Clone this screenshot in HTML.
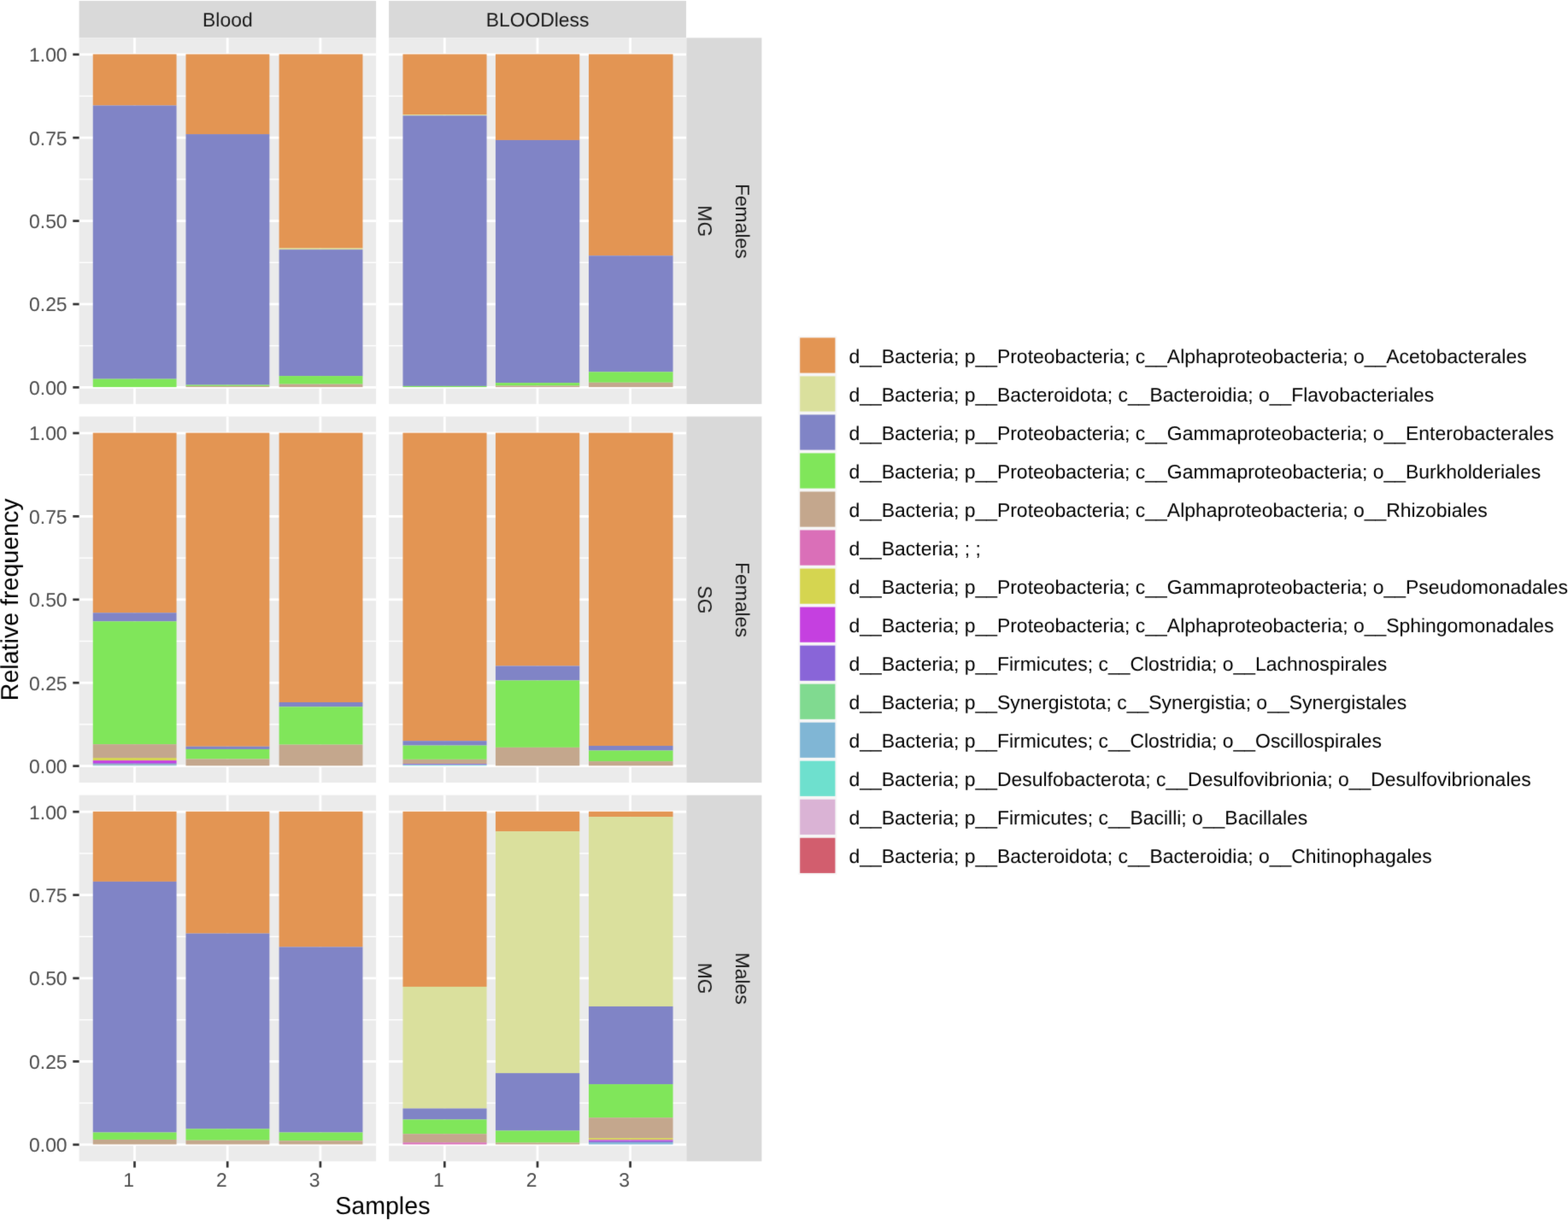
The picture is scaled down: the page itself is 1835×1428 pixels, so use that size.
<!DOCTYPE html>
<html lang="en"><head><meta charset="utf-8"><title>Relative frequency by sample</title>
<style>
html,body{margin:0;padding:0;background:#fff;}
body{width:1835px;height:1428px;overflow:hidden;}
svg{display:block;}
text{font-family:"Liberation Sans",Arial,Helvetica,sans-serif;text-rendering:geometricPrecision;}
.ax{font-size:22.9px;fill:#4d4d4d;}
.st{font-size:22.9px;fill:#1a1a1a;}
.lg{font-size:22.95px;fill:#000;}
.ti{font-size:28.6px;fill:#000;}
</style></head><body>
<svg width="1835" height="1428" viewBox="0 0 1835 1428">
<defs><filter id="soft" x="0" y="0" width="1835" height="1428" filterUnits="userSpaceOnUse" color-interpolation-filters="sRGB"><feConvolveMatrix order="3" kernelMatrix="0.0100 0.0800 0.0100 0.0800 0.6400 0.0800 0.0100 0.0800 0.0100" divisor="1" edgeMode="duplicate" preserveAlpha="true"/></filter></defs>
<g filter="url(#soft)">
<rect x="0" y="0" width="1835" height="1428" fill="#ffffff"/>
<rect x="92.6" y="1" width="347.5" height="43.3" fill="#d9d9d9"/>
<text class="st" transform="translate(266.35 31)" text-anchor="middle">Blood</text>
<rect x="455.1" y="1" width="347.9" height="43.3" fill="#d9d9d9"/>
<text class="st" transform="translate(629.05 31)" text-anchor="middle">BLOODless</text>
<rect x="803.3" y="44.3" width="88.1" height="428.6" fill="#d9d9d9"/>
<text class="st" transform="translate(817 258.8) rotate(90)" text-anchor="middle">MG</text>
<text class="st" transform="translate(861 258.8) rotate(90)" text-anchor="middle">Females</text>
<rect x="803.3" y="487.5" width="88.1" height="428.6" fill="#d9d9d9"/>
<text class="st" transform="translate(817 702) rotate(90)" text-anchor="middle">SG</text>
<text class="st" transform="translate(861 702) rotate(90)" text-anchor="middle">Females</text>
<rect x="803.3" y="930.7" width="88.1" height="428.6" fill="#d9d9d9"/>
<text class="st" transform="translate(817 1145.2) rotate(90)" text-anchor="middle">MG</text>
<text class="st" transform="translate(861 1145.2) rotate(90)" text-anchor="middle">Males</text>
<g>
<rect x="92.6" y="44.3" width="347.5" height="428.6" fill="#ebebeb"/>
<rect x="92.6" y="404.01" width="347.5" height="1.4" fill="#fff"/>
<rect x="92.6" y="306.6" width="347.5" height="1.4" fill="#fff"/>
<rect x="92.6" y="209.2" width="347.5" height="1.4" fill="#fff"/>
<rect x="92.6" y="111.79" width="347.5" height="1.4" fill="#fff"/>
<rect x="92.6" y="452.02" width="347.5" height="2.8" fill="#fff"/>
<rect x="92.6" y="354.61" width="347.5" height="2.8" fill="#fff"/>
<rect x="92.6" y="257.2" width="347.5" height="2.8" fill="#fff"/>
<rect x="92.6" y="159.79" width="347.5" height="2.8" fill="#fff"/>
<rect x="92.6" y="62.38" width="347.5" height="2.8" fill="#fff"/>
<rect x="156.1" y="44.3" width="2.8" height="428.6" fill="#fff"/>
<rect x="264.8" y="44.3" width="2.8" height="428.6" fill="#fff"/>
<rect x="373.5" y="44.3" width="2.8" height="428.6" fill="#fff"/>
<rect x="108.75" y="63.43" width="97.8" height="60" fill="#E39553"/>
<rect x="108.75" y="123.44" width="97.8" height="320.13" fill="#8084C6"/>
<rect x="108.75" y="443.56" width="97.8" height="9.51" fill="#80E65A"/>
<rect x="217.5" y="63.43" width="97.85" height="93.63" fill="#E39553"/>
<rect x="217.5" y="157.06" width="97.85" height="293.47" fill="#8084C6"/>
<rect x="217.5" y="450.54" width="97.85" height="1.36" fill="#80E65A"/>
<rect x="217.5" y="451.9" width="97.85" height="1.17" fill="#C4A78D"/>
<rect x="326.6" y="63.43" width="97.85" height="227.16" fill="#E39553"/>
<rect x="326.6" y="290.59" width="97.85" height="1.56" fill="#DAE09D"/>
<rect x="326.6" y="292.15" width="97.85" height="147.94" fill="#8084C6"/>
<rect x="326.6" y="440.09" width="97.85" height="9.55" fill="#80E65A"/>
<rect x="326.6" y="449.64" width="97.85" height="3.43" fill="#C4A78D"/>
</g>
<g>
<rect x="455.1" y="44.3" width="347.9" height="428.6" fill="#ebebeb"/>
<rect x="455.1" y="404.01" width="347.9" height="1.4" fill="#fff"/>
<rect x="455.1" y="306.6" width="347.9" height="1.4" fill="#fff"/>
<rect x="455.1" y="209.2" width="347.9" height="1.4" fill="#fff"/>
<rect x="455.1" y="111.79" width="347.9" height="1.4" fill="#fff"/>
<rect x="455.1" y="452.02" width="347.9" height="2.8" fill="#fff"/>
<rect x="455.1" y="354.61" width="347.9" height="2.8" fill="#fff"/>
<rect x="455.1" y="257.2" width="347.9" height="2.8" fill="#fff"/>
<rect x="455.1" y="159.79" width="347.9" height="2.8" fill="#fff"/>
<rect x="455.1" y="62.38" width="347.9" height="2.8" fill="#fff"/>
<rect x="518.9" y="44.3" width="2.8" height="428.6" fill="#fff"/>
<rect x="627.6" y="44.3" width="2.8" height="428.6" fill="#fff"/>
<rect x="736.2" y="44.3" width="2.8" height="428.6" fill="#fff"/>
<rect x="471.45" y="63.43" width="98.1" height="70.72" fill="#E39553"/>
<rect x="471.45" y="134.15" width="98.1" height="1.17" fill="#DAE09D"/>
<rect x="471.45" y="135.32" width="98.1" height="316.58" fill="#8084C6"/>
<rect x="471.45" y="451.9" width="98.1" height="1.17" fill="#80E65A"/>
<rect x="579.95" y="63.43" width="98.3" height="100.53" fill="#E39553"/>
<rect x="579.95" y="163.96" width="98.3" height="284.16" fill="#8084C6"/>
<rect x="579.95" y="448.12" width="98.3" height="3.39" fill="#80E65A"/>
<rect x="579.95" y="451.51" width="98.3" height="1.56" fill="#C4A78D"/>
<rect x="689" y="63.43" width="98.55" height="235.81" fill="#E39553"/>
<rect x="689" y="299.24" width="98.55" height="136.1" fill="#8084C6"/>
<rect x="689" y="435.34" width="98.55" height="12.43" fill="#80E65A"/>
<rect x="689" y="447.77" width="98.55" height="5.3" fill="#C4A78D"/>
</g>
<rect x="85.3" y="452.07" width="7.3" height="2.7" fill="#333"/>
<text class="ax" transform="translate(78.6 462)" text-anchor="end">0.00</text>
<rect x="85.3" y="354.66" width="7.3" height="2.7" fill="#333"/>
<text class="ax" transform="translate(78.6 364)" text-anchor="end">0.25</text>
<rect x="85.3" y="257.25" width="7.3" height="2.7" fill="#333"/>
<text class="ax" transform="translate(78.6 267)" text-anchor="end">0.50</text>
<rect x="85.3" y="159.84" width="7.3" height="2.7" fill="#333"/>
<text class="ax" transform="translate(78.6 170)" text-anchor="end">0.75</text>
<rect x="85.3" y="62.43" width="7.3" height="2.7" fill="#333"/>
<text class="ax" transform="translate(78.6 72)" text-anchor="end">1.00</text>
<g>
<rect x="92.6" y="487.5" width="347.5" height="428.6" fill="#ebebeb"/>
<rect x="92.6" y="847.21" width="347.5" height="1.4" fill="#fff"/>
<rect x="92.6" y="749.8" width="347.5" height="1.4" fill="#fff"/>
<rect x="92.6" y="652.4" width="347.5" height="1.4" fill="#fff"/>
<rect x="92.6" y="554.99" width="347.5" height="1.4" fill="#fff"/>
<rect x="92.6" y="895.22" width="347.5" height="2.8" fill="#fff"/>
<rect x="92.6" y="797.81" width="347.5" height="2.8" fill="#fff"/>
<rect x="92.6" y="700.4" width="347.5" height="2.8" fill="#fff"/>
<rect x="92.6" y="602.99" width="347.5" height="2.8" fill="#fff"/>
<rect x="92.6" y="505.58" width="347.5" height="2.8" fill="#fff"/>
<rect x="156.1" y="487.5" width="2.8" height="428.6" fill="#fff"/>
<rect x="264.8" y="487.5" width="2.8" height="428.6" fill="#fff"/>
<rect x="373.5" y="487.5" width="2.8" height="428.6" fill="#fff"/>
<rect x="108.75" y="506.63" width="97.8" height="210.64" fill="#E39553"/>
<rect x="108.75" y="717.27" width="97.8" height="10.09" fill="#8084C6"/>
<rect x="108.75" y="727.36" width="97.8" height="143.78" fill="#80E65A"/>
<rect x="108.75" y="871.14" width="97.8" height="15.94" fill="#C4A78D"/>
<rect x="108.75" y="887.07" width="97.8" height="3.08" fill="#D5D550"/>
<rect x="108.75" y="890.15" width="97.8" height="3.12" fill="#C540E0"/>
<rect x="108.75" y="893.27" width="97.8" height="1.44" fill="#8965D8"/>
<rect x="108.75" y="894.71" width="97.8" height="0.78" fill="#80DA90"/>
<rect x="108.75" y="895.49" width="97.8" height="0.78" fill="#80B6D5"/>
<rect x="217.5" y="506.63" width="97.85" height="367.12" fill="#E39553"/>
<rect x="217.5" y="873.75" width="97.85" height="3.2" fill="#8084C6"/>
<rect x="217.5" y="876.94" width="97.85" height="11.53" fill="#80E65A"/>
<rect x="217.5" y="888.48" width="97.85" height="7.79" fill="#C4A78D"/>
<rect x="326.6" y="506.63" width="97.85" height="315.37" fill="#E39553"/>
<rect x="326.6" y="822" width="97.85" height="5.3" fill="#8084C6"/>
<rect x="326.6" y="827.3" width="97.85" height="44.34" fill="#80E65A"/>
<rect x="326.6" y="871.64" width="97.85" height="24.63" fill="#C4A78D"/>
</g>
<g>
<rect x="455.1" y="487.5" width="347.9" height="428.6" fill="#ebebeb"/>
<rect x="455.1" y="847.21" width="347.9" height="1.4" fill="#fff"/>
<rect x="455.1" y="749.8" width="347.9" height="1.4" fill="#fff"/>
<rect x="455.1" y="652.4" width="347.9" height="1.4" fill="#fff"/>
<rect x="455.1" y="554.99" width="347.9" height="1.4" fill="#fff"/>
<rect x="455.1" y="895.22" width="347.9" height="2.8" fill="#fff"/>
<rect x="455.1" y="797.81" width="347.9" height="2.8" fill="#fff"/>
<rect x="455.1" y="700.4" width="347.9" height="2.8" fill="#fff"/>
<rect x="455.1" y="602.99" width="347.9" height="2.8" fill="#fff"/>
<rect x="455.1" y="505.58" width="347.9" height="2.8" fill="#fff"/>
<rect x="518.9" y="487.5" width="2.8" height="428.6" fill="#fff"/>
<rect x="627.6" y="487.5" width="2.8" height="428.6" fill="#fff"/>
<rect x="736.2" y="487.5" width="2.8" height="428.6" fill="#fff"/>
<rect x="471.45" y="506.63" width="98.1" height="360.53" fill="#E39553"/>
<rect x="471.45" y="867.16" width="98.1" height="5.42" fill="#8084C6"/>
<rect x="471.45" y="872.58" width="98.1" height="16.29" fill="#80E65A"/>
<rect x="471.45" y="888.87" width="98.1" height="5.3" fill="#C4A78D"/>
<rect x="471.45" y="894.16" width="98.1" height="0.94" fill="#8965D8"/>
<rect x="471.45" y="895.1" width="98.1" height="0.7" fill="#80B6D5"/>
<rect x="471.45" y="895.8" width="98.1" height="0.47" fill="#6EE0CE"/>
<rect x="579.95" y="506.63" width="98.3" height="272.82" fill="#E39553"/>
<rect x="579.95" y="779.46" width="98.3" height="16.99" fill="#8084C6"/>
<rect x="579.95" y="796.44" width="98.3" height="78.43" fill="#80E65A"/>
<rect x="579.95" y="874.88" width="98.3" height="21.39" fill="#C4A78D"/>
<rect x="689" y="506.63" width="98.55" height="366.34" fill="#E39553"/>
<rect x="689" y="872.97" width="98.55" height="5.53" fill="#8084C6"/>
<rect x="689" y="878.5" width="98.55" height="12.62" fill="#80E65A"/>
<rect x="689" y="891.12" width="98.55" height="5.14" fill="#C4A78D"/>
</g>
<rect x="85.3" y="895.27" width="7.3" height="2.7" fill="#333"/>
<text class="ax" transform="translate(78.6 905)" text-anchor="end">0.00</text>
<rect x="85.3" y="797.86" width="7.3" height="2.7" fill="#333"/>
<text class="ax" transform="translate(78.6 808)" text-anchor="end">0.25</text>
<rect x="85.3" y="700.45" width="7.3" height="2.7" fill="#333"/>
<text class="ax" transform="translate(78.6 710)" text-anchor="end">0.50</text>
<rect x="85.3" y="603.04" width="7.3" height="2.7" fill="#333"/>
<text class="ax" transform="translate(78.6 613)" text-anchor="end">0.75</text>
<rect x="85.3" y="505.63" width="7.3" height="2.7" fill="#333"/>
<text class="ax" transform="translate(78.6 515)" text-anchor="end">1.00</text>
<g>
<rect x="92.6" y="930.7" width="347.5" height="428.6" fill="#ebebeb"/>
<rect x="92.6" y="1290.41" width="347.5" height="1.4" fill="#fff"/>
<rect x="92.6" y="1193" width="347.5" height="1.4" fill="#fff"/>
<rect x="92.6" y="1095.6" width="347.5" height="1.4" fill="#fff"/>
<rect x="92.6" y="998.19" width="347.5" height="1.4" fill="#fff"/>
<rect x="92.6" y="1338.42" width="347.5" height="2.8" fill="#fff"/>
<rect x="92.6" y="1241.01" width="347.5" height="2.8" fill="#fff"/>
<rect x="92.6" y="1143.6" width="347.5" height="2.8" fill="#fff"/>
<rect x="92.6" y="1046.19" width="347.5" height="2.8" fill="#fff"/>
<rect x="92.6" y="948.78" width="347.5" height="2.8" fill="#fff"/>
<rect x="156.1" y="930.7" width="2.8" height="428.6" fill="#fff"/>
<rect x="264.8" y="930.7" width="2.8" height="428.6" fill="#fff"/>
<rect x="373.5" y="930.7" width="2.8" height="428.6" fill="#fff"/>
<rect x="108.75" y="949.83" width="97.8" height="82.06" fill="#E39553"/>
<rect x="108.75" y="1031.89" width="97.8" height="293.63" fill="#8084C6"/>
<rect x="108.75" y="1325.52" width="97.8" height="8.42" fill="#80E65A"/>
<rect x="108.75" y="1333.94" width="97.8" height="5.53" fill="#C4A78D"/>
<rect x="217.5" y="949.83" width="97.85" height="142.76" fill="#E39553"/>
<rect x="217.5" y="1092.59" width="97.85" height="228.76" fill="#8084C6"/>
<rect x="217.5" y="1321.35" width="97.85" height="13.36" fill="#80E65A"/>
<rect x="217.5" y="1334.71" width="97.85" height="4.75" fill="#C4A78D"/>
<rect x="326.6" y="949.83" width="97.85" height="158.58" fill="#E39553"/>
<rect x="326.6" y="1108.41" width="97.85" height="217.11" fill="#8084C6"/>
<rect x="326.6" y="1325.52" width="97.85" height="9.74" fill="#80E65A"/>
<rect x="326.6" y="1335.26" width="97.85" height="4.21" fill="#C4A78D"/>
</g>
<rect x="156.15" y="1359.3" width="2.7" height="7.3" fill="#333"/>
<text class="ax" transform="translate(157 1389)" text-anchor="end">1</text>
<rect x="264.85" y="1359.3" width="2.7" height="7.3" fill="#333"/>
<text class="ax" transform="translate(265.7 1389)" text-anchor="end">2</text>
<rect x="373.55" y="1359.3" width="2.7" height="7.3" fill="#333"/>
<text class="ax" transform="translate(374.4 1389)" text-anchor="end">3</text>
<g>
<rect x="455.1" y="930.7" width="347.9" height="428.6" fill="#ebebeb"/>
<rect x="455.1" y="1290.41" width="347.9" height="1.4" fill="#fff"/>
<rect x="455.1" y="1193" width="347.9" height="1.4" fill="#fff"/>
<rect x="455.1" y="1095.6" width="347.9" height="1.4" fill="#fff"/>
<rect x="455.1" y="998.19" width="347.9" height="1.4" fill="#fff"/>
<rect x="455.1" y="1338.42" width="347.9" height="2.8" fill="#fff"/>
<rect x="455.1" y="1241.01" width="347.9" height="2.8" fill="#fff"/>
<rect x="455.1" y="1143.6" width="347.9" height="2.8" fill="#fff"/>
<rect x="455.1" y="1046.19" width="347.9" height="2.8" fill="#fff"/>
<rect x="455.1" y="948.78" width="347.9" height="2.8" fill="#fff"/>
<rect x="518.9" y="930.7" width="2.8" height="428.6" fill="#fff"/>
<rect x="627.6" y="930.7" width="2.8" height="428.6" fill="#fff"/>
<rect x="736.2" y="930.7" width="2.8" height="428.6" fill="#fff"/>
<rect x="471.45" y="949.83" width="98.1" height="205.14" fill="#E39553"/>
<rect x="471.45" y="1154.98" width="98.1" height="142.49" fill="#DAE09D"/>
<rect x="471.45" y="1297.47" width="98.1" height="12.94" fill="#8084C6"/>
<rect x="471.45" y="1310.4" width="98.1" height="16.79" fill="#80E65A"/>
<rect x="471.45" y="1327.19" width="98.1" height="10.13" fill="#C4A78D"/>
<rect x="471.45" y="1337.33" width="98.1" height="2.14" fill="#DA6FB8"/>
<rect x="579.95" y="949.83" width="98.3" height="23.3" fill="#E39553"/>
<rect x="579.95" y="973.13" width="98.3" height="282.95" fill="#DAE09D"/>
<rect x="579.95" y="1256.09" width="98.3" height="67.37" fill="#8084C6"/>
<rect x="579.95" y="1323.45" width="98.3" height="14.1" fill="#80E65A"/>
<rect x="579.95" y="1337.56" width="98.3" height="1.91" fill="#C4A78D"/>
<rect x="689" y="949.83" width="98.55" height="6.31" fill="#E39553"/>
<rect x="689" y="956.14" width="98.55" height="221.86" fill="#DAE09D"/>
<rect x="689" y="1178" width="98.55" height="91.06" fill="#8084C6"/>
<rect x="689" y="1269.06" width="98.55" height="39.12" fill="#80E65A"/>
<rect x="689" y="1308.18" width="98.55" height="24.04" fill="#C4A78D"/>
<rect x="689" y="1332.22" width="98.55" height="2.07" fill="#D5D550"/>
<rect x="689" y="1334.29" width="98.55" height="1.36" fill="#C540E0"/>
<rect x="689" y="1335.65" width="98.55" height="1.48" fill="#8965D8"/>
<rect x="689" y="1337.13" width="98.55" height="2.34" fill="#80B6D5"/>
</g>
<rect x="518.95" y="1359.3" width="2.7" height="7.3" fill="#333"/>
<text class="ax" transform="translate(519.8 1389)" text-anchor="end">1</text>
<rect x="627.65" y="1359.3" width="2.7" height="7.3" fill="#333"/>
<text class="ax" transform="translate(628.5 1389)" text-anchor="end">2</text>
<rect x="736.25" y="1359.3" width="2.7" height="7.3" fill="#333"/>
<text class="ax" transform="translate(737.1 1389)" text-anchor="end">3</text>
<rect x="85.3" y="1338.47" width="7.3" height="2.7" fill="#333"/>
<text class="ax" transform="translate(78.6 1348)" text-anchor="end">0.00</text>
<rect x="85.3" y="1241.06" width="7.3" height="2.7" fill="#333"/>
<text class="ax" transform="translate(78.6 1251)" text-anchor="end">0.25</text>
<rect x="85.3" y="1143.65" width="7.3" height="2.7" fill="#333"/>
<text class="ax" transform="translate(78.6 1153)" text-anchor="end">0.50</text>
<rect x="85.3" y="1046.24" width="7.3" height="2.7" fill="#333"/>
<text class="ax" transform="translate(78.6 1056)" text-anchor="end">0.75</text>
<rect x="85.3" y="948.83" width="7.3" height="2.7" fill="#333"/>
<text class="ax" transform="translate(78.6 959)" text-anchor="end">1.00</text>
<text class="ti" transform="translate(447.8 1421)" text-anchor="middle">Samples</text>
<text class="ti" transform="translate(21 701.8) rotate(-90)" text-anchor="middle">Relative frequency</text>
<rect x="934.3" y="393.45" width="45" height="630.39" fill="#f6f6f6"/>
<rect x="936.2" y="395.35" width="41.2" height="41.2" fill="#E39553"/>
<text class="lg" transform="translate(993.5 425)">d__Bacteria; p__Proteobacteria; c__Alphaproteobacteria; o__Acetobacterales</text>
<rect x="936.2" y="440.38" width="41.2" height="41.2" fill="#DAE09D"/>
<text class="lg" transform="translate(993.5 470)">d__Bacteria; p__Bacteroidota; c__Bacteroidia; o__Flavobacteriales</text>
<rect x="936.2" y="485.41" width="41.2" height="41.2" fill="#8084C6"/>
<text class="lg" transform="translate(993.5 515)">d__Bacteria; p__Proteobacteria; c__Gammaproteobacteria; o__Enterobacterales</text>
<rect x="936.2" y="530.44" width="41.2" height="41.2" fill="#80E65A"/>
<text class="lg" transform="translate(993.5 560)">d__Bacteria; p__Proteobacteria; c__Gammaproteobacteria; o__Burkholderiales</text>
<rect x="936.2" y="575.47" width="41.2" height="41.2" fill="#C4A78D"/>
<text class="lg" transform="translate(993.5 605)">d__Bacteria; p__Proteobacteria; c__Alphaproteobacteria; o__Rhizobiales</text>
<rect x="936.2" y="620.5" width="41.2" height="41.2" fill="#DA6FB8"/>
<text class="lg" transform="translate(993.5 650)">d__Bacteria; ; ;</text>
<rect x="936.2" y="665.53" width="41.2" height="41.2" fill="#D5D550"/>
<text class="lg" transform="translate(993.5 695)">d__Bacteria; p__Proteobacteria; c__Gammaproteobacteria; o__Pseudomonadales</text>
<rect x="936.2" y="710.56" width="41.2" height="41.2" fill="#C540E0"/>
<text class="lg" transform="translate(993.5 740)">d__Bacteria; p__Proteobacteria; c__Alphaproteobacteria; o__Sphingomonadales</text>
<rect x="936.2" y="755.59" width="41.2" height="41.2" fill="#8965D8"/>
<text class="lg" transform="translate(993.5 785)">d__Bacteria; p__Firmicutes; c__Clostridia; o__Lachnospirales</text>
<rect x="936.2" y="800.62" width="41.2" height="41.2" fill="#80DA90"/>
<text class="lg" transform="translate(993.5 830)">d__Bacteria; p__Synergistota; c__Synergistia; o__Synergistales</text>
<rect x="936.2" y="845.65" width="41.2" height="41.2" fill="#80B6D5"/>
<text class="lg" transform="translate(993.5 875)">d__Bacteria; p__Firmicutes; c__Clostridia; o__Oscillospirales</text>
<rect x="936.2" y="890.68" width="41.2" height="41.2" fill="#6EE0CE"/>
<text class="lg" transform="translate(993.5 920)">d__Bacteria; p__Desulfobacterota; c__Desulfovibrionia; o__Desulfovibrionales</text>
<rect x="936.2" y="935.71" width="41.2" height="41.2" fill="#DAB3D5"/>
<text class="lg" transform="translate(993.5 965)">d__Bacteria; p__Firmicutes; c__Bacilli; o__Bacillales</text>
<rect x="936.2" y="980.74" width="41.2" height="41.2" fill="#D25E6E"/>
<text class="lg" transform="translate(993.5 1010)">d__Bacteria; p__Bacteroidota; c__Bacteroidia; o__Chitinophagales</text>
</g>
</svg>
</body></html>
